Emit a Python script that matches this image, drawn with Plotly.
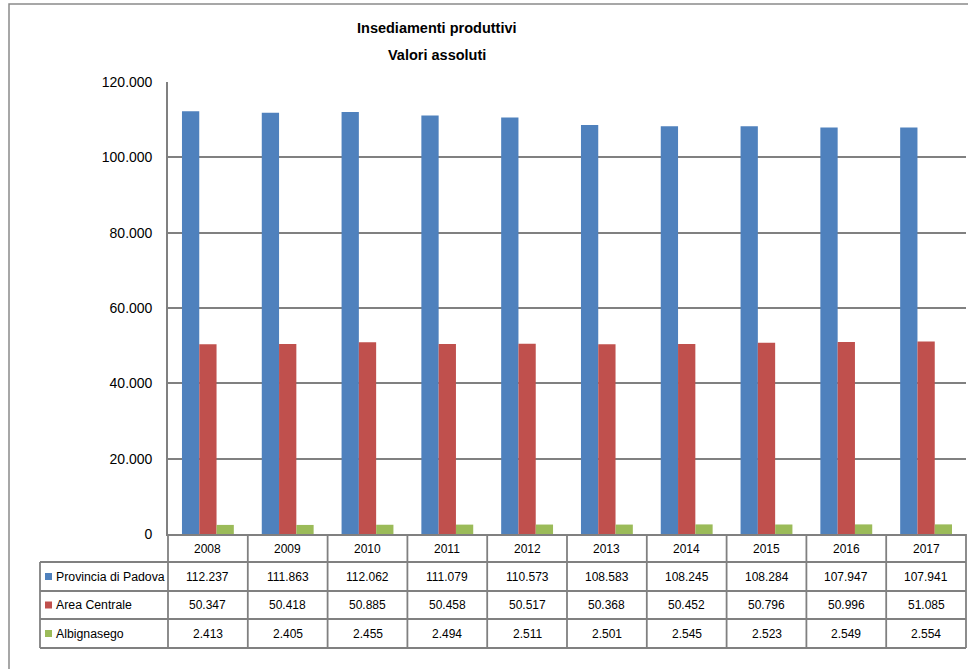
import plotly.graph_objects as go

years = ["2008", "2009", "2010", "2011", "2012", "2013", "2014", "2015", "2016", "2017"]
series_names = ["Provincia di Padova", "Area Centrale", "Albignasego"]
provincia = [112237, 111863, 112062, 111079, 110573, 108583, 108245, 108284, 107947, 107941]
area_centrale = [50347, 50418, 50885, 50458, 50517, 50368, 50452, 50796, 50996, 51085]
albignasego = [2413, 2405, 2455, 2494, 2511, 2501, 2545, 2523, 2549, 2554]
colors = ["#4F81BD", "#C0504D", "#9BBB59"]
title_lines = ["Insediamenti produttivi", "Valori assoluti"]

W, H = 968, 669
L, R, T, B = 168, 966, 82, 534  # plot area in pixels
FONT = "Liberation Sans, Arial, sans-serif"
GRID = "#808080"


def px(x):
    return (x - L) / (R - L)


def py(y):
    return (B - y) / (B - T)


def fmt(v):
    return f"{v:,}".replace(",", ".")


fig = go.Figure()
for name, vals, col in zip(series_names, [provincia, area_centrale, albignasego], colors):
    fig.add_trace(go.Bar(x=years, y=vals, name=name, marker=dict(color=col, line=dict(width=0)),
                         hoverinfo="skip"))

shapes = []
annotations = []

# outer chart border
shapes.append(dict(type="rect", xref="paper", yref="paper", x0=px(9), x1=px(990), y0=py(4), y1=py(700),
                   line=dict(color="#8a8a8a", width=1.5), fillcolor="rgba(0,0,0,0)"))

# table geometry
row_lines = [562, 591, 619, 648]
col_w = (R - L) / len(years)
for y in row_lines:
    shapes.append(dict(type="line", xref="paper", yref="paper", x0=px(40), x1=px(R), y0=py(y), y1=py(y),
                       line=dict(color=GRID, width=1.8)))
shapes.append(dict(type="line", xref="paper", yref="paper", x0=px(40), x1=px(40), y0=py(562), y1=py(648),
                   line=dict(color=GRID, width=1.8)))
for k in range(len(years) + 1):
    xx = L + k * col_w
    shapes.append(dict(type="line", xref="paper", yref="paper", x0=px(xx), x1=px(xx), y0=py(B), y1=py(648),
                       line=dict(color=GRID, width=1.8)))

VAL_FONT = dict(family=FONT, size=12, color="#000")

# header (years)
for k, yr in enumerate(years):
    annotations.append(dict(xref="paper", yref="paper", x=px(L + (k + 0.5) * col_w), y=py(549),
                            text=yr, showarrow=False, xanchor="center", yanchor="middle", font=VAL_FONT))

# rows
all_vals = [provincia, area_centrale, albignasego]
for r, (name, vals, col) in enumerate(zip(series_names, all_vals, colors)):
    yc = (row_lines[r] + row_lines[r + 1]) / 2
    shapes.append(dict(type="rect", xref="paper", yref="paper", x0=px(45), x1=px(52),
                       y0=py(yc - 3.5), y1=py(yc + 3.5), fillcolor=col, line=dict(width=0)))
    annotations.append(dict(xref="paper", yref="paper", x=px(54), y=py(yc), text=name, showarrow=False,
                            xanchor="left", yanchor="middle", font=dict(family=FONT, size=12.3, color="#000")))
    for k, v in enumerate(vals):
        annotations.append(dict(xref="paper", yref="paper", x=px(L + (k + 0.5) * col_w), y=py(yc),
                                text=fmt(v), showarrow=False, xanchor="center", yanchor="middle",
                                font=VAL_FONT))

# title
for txt, yy in zip(title_lines, [28, 55]):
    annotations.append(dict(xref="paper", yref="paper", x=px(437), y=py(yy), text="<b>" + txt + "</b>",
                            showarrow=False, xanchor="center", yanchor="middle",
                            font=dict(family=FONT, size=14.5, color="#000")))

fig.update_layout(
    width=W, height=H, autosize=False,
    margin=dict(l=L, r=W - R, t=T, b=H - B, pad=0),
    paper_bgcolor="white", plot_bgcolor="white",
    separators=",.",
    barmode="group", bargap=0.35, bargroupgap=0,
    showlegend=False, hovermode=False,
    shapes=shapes, annotations=annotations,
    font=dict(family=FONT, size=13, color="#000"),
    xaxis=dict(type="category", showticklabels=False, ticks="", showgrid=False,
               showline=True, linecolor=GRID, linewidth=1.8, fixedrange=True),
    yaxis=dict(range=[0, 120000], dtick=20000, tickformat=",d", showgrid=True, gridcolor=GRID, gridwidth=1.8,
               showline=True, linecolor=GRID, linewidth=1.8, ticks="", ticklabelstandoff=11,
               zeroline=False, tickfont=dict(family=FONT, size=14, color="#000"), fixedrange=True),
)

fig.write_html("out.html", config={"displayModeBar": False, "staticPlot": True},
               post_script="document.body.style.margin='0px';")
